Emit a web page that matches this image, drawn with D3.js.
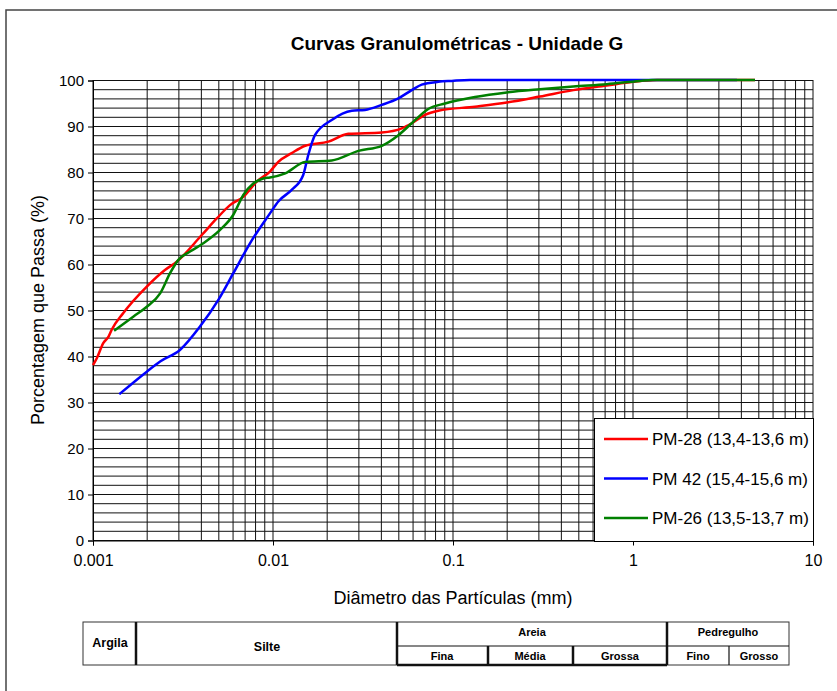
<!DOCTYPE html>
<html>
<head>
<meta charset="UTF-8">
<script src="https://d3js.org/d3.v7.min.js"></script>
<title>Curvas Granulométricas</title>
<style>
  body { margin: 0; background: #fff; }
  text { font-family: "Liberation Sans", Arial, sans-serif; fill: #000; }
</style>
</head>
<body>
<div id="chart"></div>
<script>
// dados (diâmetro em mm, % que passa)
var diamPM28 = [0.00100, 0.00105, 0.00114, 0.00122, 0.00127, 0.00147, 0.00199, 0.00251, 0.00292, 0.00402,
  0.00487, 0.00577, 0.00684, 0.00812, 0.00962, 0.0107, 0.0127, 0.0151, 0.0203, 0.0262, 0.0402, 0.0519,
  0.0590, 0.0699, 0.0828, 0.1325, 0.199, 0.304, 0.466, 0.714, 1.00, 1.36, 4.76];
var passPM28 = [38.0, 39.5, 42.8, 44.2, 45.7, 49.3, 55.1, 58.7, 60.5, 66.3,
  69.9, 72.8, 74.6, 77.9, 80.1, 82.2, 84.1, 85.7, 86.6, 88.3, 88.6, 89.5,
  90.6, 92.4, 93.3, 94.2, 95.1, 96.4, 97.8, 98.8, 99.6, 100, 100];

var diamPM42 = [0.00140, 0.00199, 0.00236, 0.00304, 0.00393, 0.00497, 0.00602, 0.00745, 0.00962, 0.0107,
  0.0127, 0.0147, 0.0157, 0.0171, 0.0212, 0.0274, 0.0324, 0.0402, 0.0497, 0.0590, 0.0670, 0.0828,
  0.0984, 0.124, 3.78];
var passPM42 = [31.7, 36.6, 38.8, 41.3, 46.4, 52.2, 58.0, 64.5, 71.0, 73.6,
  76.1, 79.3, 83.7, 88.0, 91.3, 93.3, 93.5, 94.6, 96.0, 97.8, 99.0, 99.6,
  99.8, 100, 100];

var diamPM26 = [0.00131, 0.00168, 0.00199, 0.00236, 0.00268, 0.00298, 0.00346, 0.00410, 0.00508, 0.00602,
  0.00684, 0.00777, 0.00883, 0.00962, 0.0117, 0.0151, 0.0212, 0.0298, 0.0402, 0.0497, 0.0590, 0.0729,
  0.0903, 0.1325, 0.199, 0.304, 0.466, 0.714, 1.09, 1.28, 4.76];
var passPM26 = [45.5, 48.6, 50.7, 53.6, 58.0, 60.9, 62.7, 64.5, 67.4, 70.7,
  75.0, 77.5, 78.6, 78.8, 79.7, 82.2, 82.5, 84.6, 85.7, 88.0, 90.6, 93.7,
  94.9, 96.3, 97.3, 98.0, 98.6, 99.1, 99.8, 100, 100];

var seriesNames = ["PM-28 (13,4-13,6 m)", "PM 42 (15,4-15,6 m)", "PM-26 (13,5-13,7 m)"];
var seriesColors = ["#ff0000", "#0000ff", "#008000"];

var yTicks = [0, 10, 20, 30, 40, 50, 60, 70, 80, 90, 100];
var xTicks = [0.001, 0.01, 0.1, 1, 10];
var xTickLabels = ["0.001", "0.01", "0.1", "1", "10"];

var width = 837, height = 691;

var svg = d3.select("#chart").append("svg")
  .attr("width", width)
  .attr("height", height);

// moldura
svg.append("rect")
  .attr("x", 6).attr("y", 10)
  .attr("width", 860).attr("height", 720)
  .attr("fill", "none").attr("stroke", "#444").attr("stroke-width", 1.5);

var x = d3.scaleLog().domain([0.001, 10]).range([93, 813]);
var y = d3.scaleLinear().domain([0, 100]).range([540, 80]);

// grade vertical (1..9 por década)
var vgrid = [];
for (var e = -3; e <= 0; e++) {
  for (var m = 1; m <= 9; m++) vgrid.push(m * Math.pow(10, e));
}
vgrid.push(10);
svg.append("g").selectAll("line").data(vgrid).enter().append("line")
  .attr("x1", function(d) { return x(d); })
  .attr("x2", function(d) { return x(d); })
  .attr("y1", y(0)).attr("y2", y(100))
  .attr("stroke", "#111").attr("stroke-width", 1);

// grade horizontal (cada 2%)
svg.append("g").selectAll("line").data(d3.range(0, 101, 2)).enter().append("line")
  .attr("x1", x(0.001)).attr("x2", x(10))
  .attr("y1", function(d) { return y(d) + 0.5; })
  .attr("y2", function(d) { return y(d) + 0.5; })
  .attr("stroke", "#111").attr("stroke-width", 1);

// eixos
var yAxis = d3.axisLeft(y).tickValues(yTicks).tickSize(5).tickPadding(4);
svg.append("g").attr("transform", "translate(93,0.5)").call(yAxis)
  .call(function(g) {
    g.select(".domain").attr("stroke", "#000");
    g.selectAll("line").attr("stroke", "#000");
    g.selectAll("text").style("font-size", "15px").attr("fill", "#000");
  });

var xAxis = d3.axisBottom(x).tickValues(xTicks)
  .tickFormat(function(d, i) { return xTickLabels[i]; })
  .tickSize(5).tickPadding(9);
svg.append("g").attr("transform", "translate(0,540.5)").call(xAxis)
  .call(function(g) {
    g.select(".domain").attr("stroke", "#000");
    g.selectAll("line").attr("stroke", "#000");
    g.selectAll("text").style("font-size", "16px").attr("fill", "#000");
  });

// curvas
var line = d3.line()
  .x(function(d) { return x(d[0]); })
  .y(function(d) { return y(d[1]); })
  .curve(d3.curveMonotoneX);

var series = [
  d3.zip(diamPM28, passPM28),
  d3.zip(diamPM42, passPM42),
  d3.zip(diamPM26, passPM26)
];
series.forEach(function(s, i) {
  svg.append("path").datum(s)
    .attr("d", line)
    .attr("fill", "none")
    .attr("stroke", seriesColors[i])
    .attr("stroke-width", 2.5)
    .attr("stroke-linejoin", "round");
});

// títulos
svg.append("text").attr("x", 457).attr("y", 50)
  .attr("text-anchor", "middle")
  .style("font-size", "19px").style("font-weight", "bold")
  .text("Curvas Granulométricas - Unidade G");

svg.append("text").attr("x", 453).attr("y", 604)
  .attr("text-anchor", "middle")
  .style("font-size", "18px")
  .text("Diâmetro das Partículas (mm)");

svg.append("text")
  .attr("transform", "translate(44,310) rotate(-90)")
  .attr("text-anchor", "middle")
  .style("font-size", "18px")
  .text("Porcentagem que Passa (%)");

// legenda
var leg = svg.append("g");
leg.append("rect").attr("x", 594.5).attr("y", 418.5)
  .attr("width", 219).attr("height", 123)
  .attr("fill", "#fff").attr("stroke", "#000").attr("stroke-width", 1);
seriesNames.forEach(function(n, i) {
  var ly = 439 + i * 39.5;
  leg.append("line").attr("x1", 604).attr("x2", 648)
    .attr("y1", ly).attr("y2", ly)
    .attr("stroke", seriesColors[i]).attr("stroke-width", 2.5);
  leg.append("text").attr("x", 652).attr("y", ly + 6)
    .style("font-size", "17px").text(n);
});

// tabela de classificação
var tbl = svg.append("g");
var tTop = 622, tMid = 646, tBot = 665;
tbl.append("rect").attr("x", 83).attr("y", tTop)
  .attr("width", 706).attr("height", tBot - tTop)
  .attr("fill", "none").attr("stroke", "#333").attr("stroke-width", 1);
var thick = [[136, tTop, 136, tBot], [397, tTop, 397, tBot], [667, tTop, 667, tBot],
  [488, tMid, 488, tBot], [573, tMid, 573, tBot], [397, tBot, 667, tBot]];
thick.forEach(function(l) {
  tbl.append("line").attr("x1", l[0]).attr("y1", l[1]).attr("x2", l[2]).attr("y2", l[3])
    .attr("stroke", "#111").attr("stroke-width", 2.5);
});
var thin = [[397, tMid, 789, tMid], [729, tMid, 729, tBot]];
thin.forEach(function(l) {
  tbl.append("line").attr("x1", l[0]).attr("y1", l[1]).attr("x2", l[2]).attr("y2", l[3])
    .attr("stroke", "#111").attr("stroke-width", 1.2);
});

var tableLabels = [
  ["Argila", 110, 647, 12.5], ["Silte", 267, 651, 12.5],
  ["Areia", 532, 636, 11], ["Fina", 442, 660, 11], ["Média", 530, 660, 11],
  ["Grossa", 620, 660, 11], ["Pedregulho", 728, 636, 11],
  ["Fino", 698, 660, 11], ["Grosso", 759, 660, 11]
];
tableLabels.forEach(function(t) {
  tbl.append("text").attr("x", t[1]).attr("y", t[2])
    .attr("text-anchor", "middle")
    .style("font-size", t[3] + "px").style("font-weight", "bold")
    .text(t[0]);
});
</script>
</body>
</html>
